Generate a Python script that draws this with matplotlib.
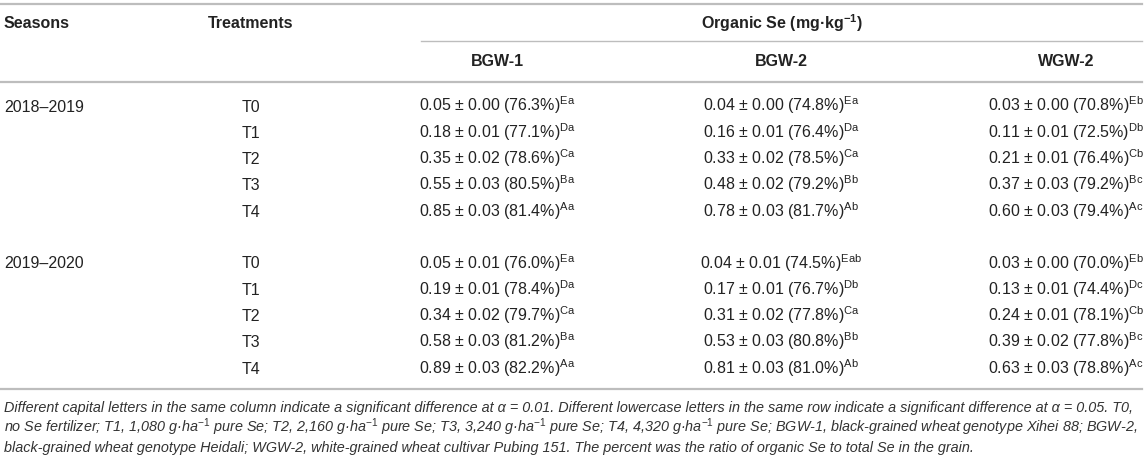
import matplotlib
matplotlib.use("Agg")
import matplotlib.pyplot as plt

plt.rcParams['font.family'] = ['Liberation Sans', 'DejaVu Sans']
plt.rcParams['mathtext.fontset'] = 'custom'
plt.rcParams['mathtext.rm'] = 'Liberation Sans'
plt.rcParams['mathtext.it'] = 'Liberation Sans:italic'
plt.rcParams['mathtext.bf'] = 'Liberation Sans:bold'

# table data
seasons = ['2018\u20132019', '2019\u20132020']
treatments = ['T0', 'T1', 'T2', 'T3', 'T4']
genotypes = ['BGW-1', 'BGW-2', 'WGW-2']

# 2018-2019
mean_bgw1_a = [0.05, 0.18, 0.35, 0.55, 0.85]
sd_bgw1_a = [0.00, 0.01, 0.02, 0.03, 0.03]
pct_bgw1_a = [76.3, 77.1, 78.6, 80.5, 81.4]
let_bgw1_a = ['Ea', 'Da', 'Ca', 'Ba', 'Aa']

mean_bgw2_a = [0.04, 0.16, 0.33, 0.48, 0.78]
sd_bgw2_a = [0.00, 0.01, 0.02, 0.02, 0.03]
pct_bgw2_a = [74.8, 76.4, 78.5, 79.2, 81.7]
let_bgw2_a = ['Ea', 'Da', 'Ca', 'Bb', 'Ab']

mean_wgw2_a = [0.03, 0.11, 0.21, 0.37, 0.60]
sd_wgw2_a = [0.00, 0.01, 0.01, 0.03, 0.03]
pct_wgw2_a = [70.8, 72.5, 76.4, 79.2, 79.4]
let_wgw2_a = ['Eb', 'Db', 'Cb', 'Bc', 'Ac']

# 2019-2020
mean_bgw1_b = [0.05, 0.19, 0.34, 0.58, 0.89]
sd_bgw1_b = [0.01, 0.01, 0.02, 0.03, 0.03]
pct_bgw1_b = [76.0, 78.4, 79.7, 81.2, 82.2]
let_bgw1_b = ['Ea', 'Da', 'Ca', 'Ba', 'Aa']

mean_bgw2_b = [0.04, 0.17, 0.31, 0.53, 0.81]
sd_bgw2_b = [0.01, 0.01, 0.02, 0.03, 0.03]
pct_bgw2_b = [74.5, 76.7, 77.8, 80.8, 81.0]
let_bgw2_b = ['Eab', 'Db', 'Ca', 'Bb', 'Ab']

mean_wgw2_b = [0.03, 0.13, 0.24, 0.39, 0.63]
sd_wgw2_b = [0.00, 0.01, 0.01, 0.02, 0.03]
pct_wgw2_b = [70.0, 74.4, 78.1, 77.8, 78.8]
let_wgw2_b = ['Eb', 'Dc', 'Cb', 'Bc', 'Ac']

footnote = [
    'Different capital letters in the same column indicate a significant difference at \u03b1 = 0.01. '
    'Different lowercase letters in the same row indicate a significant difference at \u03b1 = 0.05. T0,',
    'no Se fertilizer; T1, 1,080 g\u00b7ha$^{\\mathrm{-1}}$ pure Se; T2, 2,160 g\u00b7ha$^{\\mathrm{-1}}$ pure Se; '
    'T3, 3,240 g\u00b7ha$^{\\mathrm{-1}}$ pure Se; T4, 4,320 g\u00b7ha$^{\\mathrm{-1}}$ pure Se; '
    'BGW-1, black-grained wheat genotype Xihei 88; BGW-2,',
    'black-grained wheat genotype Heidali; WGW-2, white-grained wheat cultivar Pubing 151. '
    'The percent was the ratio of organic Se to total Se in the grain.',
]

blocks = [
    [(mean_bgw1_a, sd_bgw1_a, pct_bgw1_a, let_bgw1_a),
     (mean_bgw2_a, sd_bgw2_a, pct_bgw2_a, let_bgw2_a),
     (mean_wgw2_a, sd_wgw2_a, pct_wgw2_a, let_wgw2_a)],
    [(mean_bgw1_b, sd_bgw1_b, pct_bgw1_b, let_bgw1_b),
     (mean_bgw2_b, sd_bgw2_b, pct_bgw2_b, let_bgw2_b),
     (mean_wgw2_b, sd_wgw2_b, pct_wgw2_b, let_wgw2_b)],
]

fig = plt.figure(figsize=(11.46, 4.58), dpi=100)
ax = fig.add_axes([0, 0, 1, 1])
ax.set_xlim(0, 1146)
ax.set_ylim(458, 0)
ax.axis('off')

txt = '#222222'
rule = '#bdbdbd'
fs = 11.5

# rules
ax.plot([0, 1142], [4, 4], color=rule, lw=1.6)
ax.plot([421, 1142], [41, 41], color=rule, lw=1.0)
ax.plot([0, 1142], [82, 82], color=rule, lw=1.6)
ax.plot([0, 1142], [389, 389], color=rule, lw=1.6)

# headers
ax.text(4, 23, 'Seasons', fontsize=fs, fontweight='bold', color=txt, va='center', ha='left')
ax.text(251, 23, 'Treatments', fontsize=fs, fontweight='bold', color=txt, va='center', ha='center')
ax.text(782, 28.5, 'Organic Se (mg\u00b7kg$^{\\mathbf{-1}}$)', fontsize=fs, fontweight='bold',
        color=txt, va='baseline', ha='center')
col_x = [497, 781, 1066]
for x, g in zip(col_x, genotypes):
    ax.text(x, 61, g, fontsize=fs, fontweight='bold', color=txt, va='center', ha='center')

# body
row_start = [106, 263]
step = 26.3
for b, season in enumerate(seasons):
    y0 = row_start[b]
    ax.text(4, y0 + 5.5, season, fontsize=fs, color=txt, va='baseline', ha='left')
    for i, t in enumerate(treatments):
        y = y0 + i * step
        ax.text(251, y + 5.5, t, fontsize=fs, color=txt, va='baseline', ha='center')
        for x, (m, s, p, l) in zip(col_x, blocks[b]):
            label = f'{m[i]:.2f} \u00b1 {s[i]:.2f} ({p[i]:.1f}%)$^{{\\mathrm{{{l[i]}}}}}$'
            ax.text(x, y + 5.5, label, fontsize=fs, color=txt, va='baseline', ha='center')

# footnote
for k, line in enumerate(footnote):
    ax.text(4, 407 + k * 20 + 5, line, fontsize=10.4, style='italic', color='#333333',
            va='baseline', ha='left')

fig.savefig('out.png', dpi=100)
